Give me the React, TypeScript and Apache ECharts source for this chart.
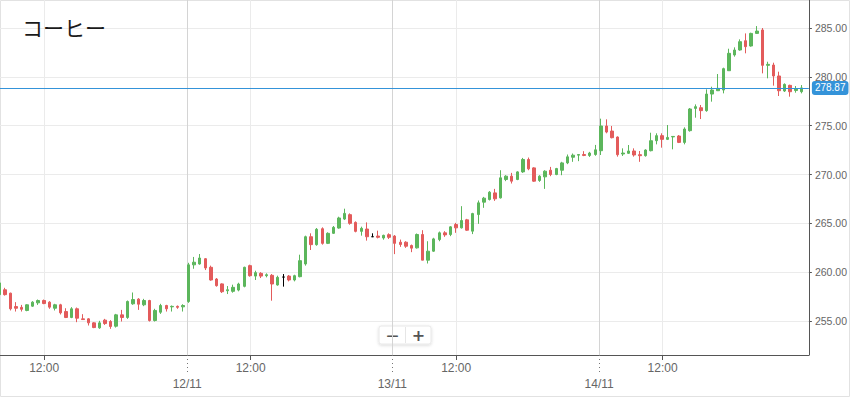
import React, { useEffect, useRef } from 'react';
import * as echarts from 'echarts';

const titleText = 'コーヒー';

const opens = [
  257.7, 258.2, 257.85, 256.48, 256.4, 256.08, 256.52, 256.86, 257.1, 256.93,
  256.31, 256.66, 255.97, 255.36, 256.25, 255.22, 255.22, 254.81, 254.3, 255.09,
  254.95, 254.47, 255.63, 255.36, 256.76, 257.24, 256.66, 257.1, 255.05, 255.9,
  256.59, 256.45, 256.5, 256.45, 257.0, 260.75, 260.84, 261.38, 260.5, 259.3,
  258.8, 258.1, 258.04, 258.17, 258.55, 260.67, 259.6, 259.88, 259.64, 259.68,
  258.69, 259.5, 259.6, 259.2, 259.54, 260.84, 263.63, 262.82, 264.45, 262.95,
  263.98, 264.52, 265.44, 265.89, 265.1, 264.18, 264.42, 263.63, 263.7, 263.5,
  263.84, 263.7, 263.07, 263.07, 262.73, 262.49, 263.86, 261.23, 262.15, 263.34,
  264.03, 263.86, 264.88, 264.54, 265.36, 264.2, 265.9, 267.17, 267.44, 268.12,
  267.61, 269.49, 269.83, 269.49, 270.27, 271.54, 270.68, 269.39, 269.76, 270.44,
  270.0, 270.44, 271.19, 271.77, 271.98, 272.05, 271.95, 272.05, 272.44, 274.97,
  274.45, 273.84, 272.1, 272.17, 272.41, 272.03, 271.93, 272.44, 273.46, 273.98,
  273.6, 273.85, 273.94, 273.29, 274.49, 276.77, 276.84, 276.54, 278.24, 278.58,
  278.65, 280.63, 282.24, 282.75, 283.7, 283.16, 284.45, 284.8, 281.18, 281.21,
  280.09, 278.55, 279.13, 278.6, 278.48,
];
const closes = [
  258.9, 257.7, 256.25, 256.31, 256.2, 256.66, 256.93, 257.1, 256.79, 256.42,
  256.66, 255.84, 255.36, 256.25, 255.29, 255.15, 254.81, 254.33, 254.81, 254.74,
  254.44, 255.63, 255.36, 257.0, 257.2, 256.72, 257.1, 255.05, 256.08, 256.59,
  256.25, 256.5, 256.4, 256.59, 260.75, 261.02, 261.45, 260.43, 259.2, 258.62,
  258.0, 258.2, 258.45, 258.79, 260.5, 259.64, 259.95, 259.6, 259.74, 258.79,
  259.47, 259.5, 259.2, 259.64, 261.18, 263.63, 262.82, 264.39, 262.95, 263.98,
  264.59, 265.55, 266.02, 265.0, 264.18, 264.49, 263.63, 263.63, 263.57, 263.77,
  263.57, 262.95, 262.83, 262.66, 262.46, 263.86, 261.23, 262.15, 263.41, 264.03,
  263.82, 264.64, 264.54, 265.29, 264.3, 266.0, 267.1, 267.58, 268.19, 267.51,
  269.66, 269.83, 269.32, 270.27, 271.54, 270.58, 269.32, 269.83, 270.34, 270.0,
  270.61, 271.19, 271.81, 271.98, 272.05, 271.95, 272.2, 272.53, 274.97, 274.35,
  273.77, 272.03, 272.2, 272.41, 272.0, 271.93, 272.51, 273.46, 273.98, 273.6,
  273.8, 273.9, 273.29, 274.66, 276.71, 276.95, 276.54, 278.24, 278.65, 278.82,
  280.84, 282.41, 282.75, 283.6, 283.09, 284.45, 284.69, 281.18, 281.28, 280.09,
  278.58, 279.23, 278.48, 278.75, 278.87,
];
const lows = [
  257.5, 257.6, 256.08, 255.97, 255.97, 256.0, 256.45, 256.65, 256.72, 256.25,
  256.08, 255.67, 255.3, 255.29, 254.88, 255.15, 254.54, 254.27, 254.2, 254.6,
  254.2, 254.33, 254.95, 255.22, 256.66, 256.14, 256.52, 254.95, 254.95, 255.73,
  255.97, 255.97, 256.25, 255.97, 256.86, 260.35, 260.77, 260.22, 259.13, 258.52,
  257.87, 257.76, 257.9, 258.04, 258.45, 259.54, 259.2, 259.4, 259.47, 257.08,
  258.62, 258.52, 259.06, 259.06, 259.47, 260.67, 262.27, 262.71, 262.82, 262.88,
  263.91, 264.45, 265.34, 264.86, 264.08, 263.74, 263.23, 263.6, 263.46, 263.33,
  263.4, 261.85, 262.59, 262.49, 262.05, 262.42, 261.23, 260.89, 262.08, 263.17,
  263.62, 263.69, 264.03, 264.47, 264.23, 263.9, 264.95, 266.59, 267.34, 267.3,
  267.54, 269.32, 269.08, 269.42, 270.17, 270.44, 269.25, 269.25, 268.53, 269.83,
  269.93, 269.93, 271.06, 271.3, 271.37, 271.88, 271.8, 271.92, 272.0, 274.22,
  273.7, 271.83, 271.9, 272.1, 271.83, 271.3, 271.83, 272.37, 273.09, 272.75,
  273.53, 272.58, 273.22, 273.09, 274.39, 275.82, 275.68, 276.43, 277.46, 278.55,
  278.31, 280.6, 282.07, 282.68, 282.41, 283.09, 284.39, 280.36, 279.85, 279.1,
  278.04, 278.45, 277.97, 278.38, 278.31,
];
const highs = [
  259.1, 258.4, 257.9, 256.93, 256.65, 256.72, 257.03, 257.2, 257.2, 257.03,
  256.76, 256.76, 256.31, 256.42, 256.38, 255.7, 255.29, 254.88, 255.02, 255.22,
  255.09, 255.73, 256.14, 257.1, 257.92, 257.34, 257.27, 257.17, 256.25, 256.76,
  256.66, 256.59, 256.59, 256.72, 260.96, 261.56, 261.86, 261.45, 260.67, 259.4,
  258.86, 258.58, 258.72, 258.92, 260.56, 260.77, 260.15, 260.0, 259.88, 259.81,
  259.64, 259.81, 259.71, 259.74, 261.79, 263.74, 263.98, 264.52, 264.59, 264.08,
  264.73, 265.68, 266.5, 266.02, 265.2, 264.66, 265.1, 263.98, 264.25, 263.84,
  263.98, 263.8, 263.34, 263.17, 262.83, 263.96, 264.3, 263.17, 263.52, 264.16,
  264.2, 264.71, 265.05, 266.76, 265.46, 266.08, 267.34, 267.71, 268.3, 268.53,
  270.44, 269.93, 270.17, 270.34, 271.7, 271.74, 270.75, 269.93, 270.44, 270.78,
  270.68, 271.3, 272.05, 272.15, 272.08, 272.39, 272.32, 273.03, 275.72, 275.65,
  274.97, 273.9, 272.68, 273.02, 272.68, 272.41, 272.58, 274.28, 274.22, 274.22,
  275.07, 273.94, 274.04, 274.83, 276.81, 277.18, 277.12, 278.72, 278.99, 280.29,
  280.94, 282.88, 283.02, 283.84, 284.45, 284.52, 285.2, 285.0, 281.55, 281.45,
  280.53, 279.33, 279.2, 279.06, 279.16,
];

const timeTickPositions = [8.075, 45.14, 82.03, 119.08];
const timeTickLabels = ['12:00', '12:00', '12:00', '12:00'];
const dateTickPositions = [33.75, 70.56, 107.7];
const dateTickLabels = ['12/11', '13/11', '14/11'];
const yTicks = [255, 260, 265, 270, 275, 280, 285];
const lastPrice = 278.87;

const X_MIN = 0.1432;
const X_MAX = 145.35;
const Y_MIN = 251.52;
const Y_MAX = 287.87;

const GREEN = '#5cb65c';
const RED = '#e35b5b';
const BLUE = '#3493d9';
const FONT = '"Liberation Sans", Arial, sans-serif';

function lookup(positions: number[], labels: string[], v: number): string {
  const idx = positions.findIndex((p) => Math.abs(p - v) < 1e-6);
  return idx >= 0 ? labels[idx] : '';
}

export default function App() {
  const ref = useRef<HTMLDivElement>(null);

  useEffect(() => {
    document.body.style.margin = '0';
    const chart = echarts.init(ref.current!, null, { renderer: 'svg' });

    const data = opens.map((o, i) => {
      const item: any = { value: [i, o, closes[i], lows[i], highs[i]] };
      if (o === closes[i]) {
        item.itemStyle = { borderColor: '#000', borderColor0: '#000', color: '#000', color0: '#000' };
      }
      return item;
    });

    chart.setOption({
      animation: false,
      backgroundColor: '#fff',
      title: {
        text: titleText,
        left: 17,
        top: 11,
        textStyle: {
          fontSize: 21,
          fontWeight: 'normal',
          color: '#1a1a1a',
          fontFamily: '"Noto Sans CJK JP", sans-serif',
        },
      },
      grid: { left: 0, right: 39, top: 0, bottom: 42, containLabel: false },
      xAxis: [
        {
          type: 'value',
          min: X_MIN,
          max: X_MAX,
          position: 'bottom',
          axisLine: { show: true, onZero: false, lineStyle: { color: '#555', width: 1 } },
          axisTick: { show: true, customValues: timeTickPositions, length: 5, lineStyle: { color: '#555' } },
          axisLabel: {
            customValues: timeTickPositions,
            formatter: (v: number) => lookup(timeTickPositions, timeTickLabels, v),
            color: '#666',
            fontSize: 12,
            margin: 7,
            fontFamily: FONT,
          },
          splitLine: { show: true, lineStyle: { color: '#ebebeb', width: 1 } },
        },
        {
          type: 'value',
          min: X_MIN,
          max: X_MAX,
          position: 'bottom',
          axisLine: { show: false },
          axisTick: {
            show: true,
            customValues: dateTickPositions,
            length: 20,
            lineStyle: { color: '#777', type: [1, 3] },
          },
          axisLabel: {
            customValues: dateTickPositions,
            formatter: (v: number) => lookup(dateTickPositions, dateTickLabels, v),
            color: '#666',
            fontSize: 12,
            margin: 23,
            fontFamily: FONT,
          },
          splitLine: { show: true, lineStyle: { color: '#d4d4d4', width: 1 } },
        },
      ],
      yAxis: {
        type: 'value',
        position: 'right',
        min: Y_MIN,
        max: Y_MAX,
        axisLine: { show: true, lineStyle: { color: '#555', width: 1 } },
        axisTick: { show: true, customValues: yTicks, length: 3, lineStyle: { color: '#555' } },
        axisLabel: {
          customValues: yTicks,
          formatter: (v: number) => v.toFixed(2),
          color: '#666',
          fontSize: 10.5,
          margin: 6,
          fontFamily: FONT,
        },
        splitLine: { show: true, lineStyle: { color: '#ebebeb', width: 1 } },
      },
      series: [
        {
          type: 'candlestick',
          xAxisIndex: 0,
          yAxisIndex: 0,
          data,
          encode: { x: 0, y: [1, 2, 3, 4] },
          barWidth: 3,
          itemStyle: {
            color: GREEN,
            color0: RED,
            borderColor: GREEN,
            borderColor0: RED,
            borderColorDoji: '#000',
            borderWidth: 1,
          },
          markLine: {
            silent: true,
            symbol: 'none',
            animation: false,
            lineStyle: { color: BLUE, width: 1, type: 'solid' },
            label: {
              show: true,
              position: 'end',
              distance: 3,
              formatter: () => lastPrice.toFixed(2),
              backgroundColor: BLUE,
              color: '#fff',
              fontSize: 10,
              fontFamily: FONT,
              padding: [2, 3, 2, 3],
              borderRadius: 3,
            },
            emphasis: { disabled: true },
            data: [{ yAxis: lastPrice }],
          },
        },
      ],
      graphic: [
        {
          type: 'rect',
          silent: true,
          shape: { x: 0.5, y: 0.5, width: 849, height: 396 },
          style: { fill: 'none', stroke: '#e2e2e2', lineWidth: 1 },
        },
        {
          type: 'group',
          x: 379,
          y: 326,
          children: [
            {
              type: 'rect',
              shape: { x: 0, y: 0, width: 52, height: 18, r: 2 },
              style: {
                fill: '#fff',
                stroke: '#e8e8e8',
                shadowBlur: 3,
                shadowColor: 'rgba(0,0,0,0.15)',
                shadowOffsetY: 1,
              },
            },
            {
              type: 'line',
              shape: { x1: 26.5, y1: 1, x2: 26.5, y2: 17 },
              style: { stroke: '#e6e6e6', lineWidth: 1 },
            },
            {
              type: 'text',
              x: 13.5,
              y: 9.5,
              style: {
                text: '—',
                fill: '#555',
                font: 'bold 12px "DejaVu Sans", sans-serif',
                align: 'center',
                verticalAlign: 'middle',
              },
            },
            {
              type: 'text',
              x: 39.5,
              y: 9.5,
              style: {
                text: '+',
                fill: '#555',
                font: 'bold 16px "DejaVu Sans", sans-serif',
                align: 'center',
                verticalAlign: 'middle',
              },
            },
          ],
        },
      ],
    });

    return () => chart.dispose();
  }, []);

  return <div ref={ref} style={{ width: 850, height: 397 }} />;
}
